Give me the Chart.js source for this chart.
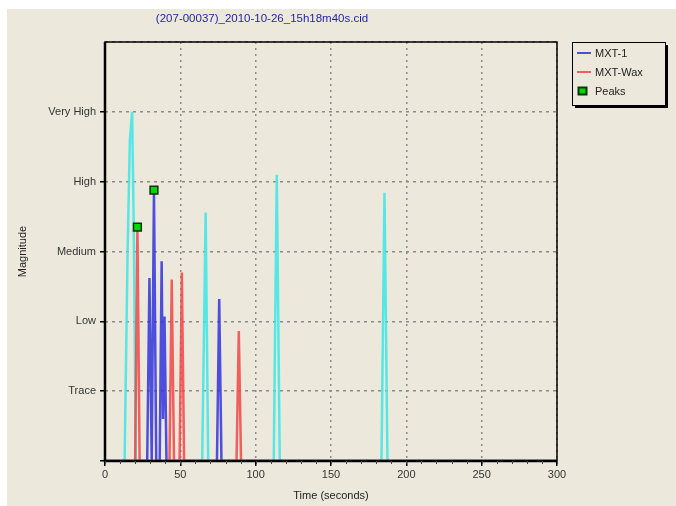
<!DOCTYPE html>
<html>
<head>
<meta charset="utf-8">
<script src="https://cdn.jsdelivr.net/npm/chart.js@4"></script>
<style>
  body { margin: 0; background: #ffffff; }
  #wrap { position: absolute; left: 7px; top: 9px; width: 669px; height: 497px; background: #ece9dc; }
</style>
</head>
<body>
<div id="wrap"><canvas id="peakChart"></canvas></div>
<script>
// Values (time in seconds, magnitude 0..6)
const chartTitle = '(207-00037)_2010-10-26_15h18m40s.cid';
const yLabels = ['', 'Trace', 'Low', 'Medium', 'High', 'Very High', ''];

const cyanTimes  = [0, 13, 15, 16.5, 18, 19, 20.5, 64.5, 66.8, 68.5, 112, 114, 116, 183.5, 185.5, 187.5, 300];
const cyanValues = [0, 0, 3.0, 4.6, 5.0, 3.5, 0, 0, 3.56, 0, 0, 4.1, 0, 0, 3.84, 0, 0];

const mxt1Times  = [0, 28, 29.5, 31, 32.5, 34, 36.3, 37.6, 38.5, 39.5, 40.8, 74.3, 75.8, 77.3, 300];
const mxt1Values = [0, 0, 2.62, 0, 3.88, 0, 0, 2.86, 0.6, 2.07, 0, 0, 2.32, 0, 0];

const waxTimes  = [0, 20, 21.5, 23, 42.8, 44.3, 45.8, 49.5, 51, 52.5, 87.3, 88.8, 90.3, 300];
const waxValues = [0, 0, 3.35, 0, 0, 2.6, 0, 0, 2.7, 0, 0, 1.86, 0, 0];

const peakTimes  = [21.5, 32.5];
const peakValues = [3.35, 3.88];

function toPoints(xs, ys) {
    return xs.map((t, i) => ({ x: t, y: ys[i] }));
}

const fontFamily = '"Liberation Sans", Arial, sans-serif';

// frame, minor ticks, title and legend box
const framePlugin = {
    id: 'frame',
    afterDraw(chart) {
        const ctx = chart.ctx;
        const a = chart.chartArea;
        const x = chart.scales.x;
        ctx.save();
        ctx.strokeStyle = '#000';
        ctx.lineWidth = 1.5;
        ctx.strokeRect(a.left, a.top, a.right - a.left, a.bottom - a.top);
        ctx.lineWidth = 2.5;
        ctx.beginPath();
        ctx.moveTo(a.left, a.top);
        ctx.lineTo(a.left, a.bottom);
        ctx.lineTo(a.right, a.bottom);
        ctx.stroke();

        ctx.lineWidth = 1;
        ctx.strokeStyle = '#444';
        for (let t = 0; t <= 300; t += 10) {
            const px = Math.round(x.getPixelForValue(t)) + 0.5;
            ctx.beginPath();
            ctx.moveTo(px, a.bottom);
            ctx.lineTo(px, a.bottom + 3);
            ctx.stroke();
        }

        // title
        ctx.fillStyle = '#1e1eb0';
        ctx.font = '11.5px ' + fontFamily;
        ctx.textAlign = 'center';
        ctx.textBaseline = 'middle';
        ctx.fillText(chartTitle, 255, 10);

        // legend
        ctx.font = '11px ' + fontFamily;
        const lx = a.right + 15, ly = a.top, lw = 93, lh = 63;
        ctx.fillStyle = '#000';
        ctx.fillRect(lx + 3, ly + 3, lw, lh);
        ctx.fillStyle = '#ece9dc';
        ctx.fillRect(lx, ly, lw, lh);
        ctx.strokeStyle = '#000';
        ctx.lineWidth = 1;
        ctx.strokeRect(lx + 0.5, ly + 0.5, lw, lh);
        ctx.textAlign = 'left';
        const items = chart.data.datasets.filter(d => d.label);
        items.forEach((d, i) => {
            const y = ly + 11 + i * 19;
            if (d.showLine === false) {
                ctx.fillStyle = '#00d800';
                ctx.fillRect(lx + 6, y - 4, 9, 8);
                ctx.strokeStyle = '#103010';
                ctx.strokeRect(lx + 6.5, y - 3.5, 8, 7);
            } else {
                ctx.strokeStyle = d.borderColor;
                ctx.lineWidth = 2;
                ctx.beginPath();
                ctx.moveTo(lx + 5, y);
                ctx.lineTo(lx + 19, y);
                ctx.stroke();
            }
            ctx.fillStyle = '#222';
            ctx.fillText(d.label, lx + 23, y + 1);
        });
        ctx.restore();
    }
};

const ctx = document.getElementById('peakChart').getContext('2d');
new Chart(ctx, {
    type: 'line',
    data: {
        datasets: [
            {
                label: 'MXT-1',
                data: toPoints(mxt1Times, mxt1Values),
                borderColor: 'rgba(50, 50, 220, 0.85)',
                borderWidth: 2.5,
                pointRadius: 0,
                order: 2
            },
            {
                label: 'MXT-Wax',
                data: toPoints(waxTimes, waxValues),
                borderColor: 'rgba(240, 70, 70, 0.85)',
                borderWidth: 2.5,
                pointRadius: 0,
                order: 1
            },
            {
                label: 'Peaks',
                data: toPoints(peakTimes, peakValues),
                showLine: false,
                pointStyle: 'rect',
                pointRadius: 5.5,
                pointBackgroundColor: '#00d800',
                pointBorderColor: '#103010',
                pointBorderWidth: 1.5,
                order: 0
            },
            {
                label: '',
                data: toPoints(cyanTimes, cyanValues),
                borderColor: 'rgba(60, 230, 230, 0.85)',
                borderWidth: 2.5,
                pointRadius: 0,
                order: 3
            }
        ]
    },
    options: {
        responsive: true,
        maintainAspectRatio: false,
        animation: false,
        layout: { padding: { top: 33, right: 119, left: 0, bottom: 0 } },
        plugins: {
            legend: { display: false },
            tooltip: { enabled: false }
        },
        scales: {
            x: {
                type: 'linear',
                min: 0,
                max: 300,
                afterFit(scale) { scale.height = 45; },
                ticks: { stepSize: 50, color: '#333', font: { family: fontFamily, size: 11 }, padding: 2 },
                grid: { color: '#8a8a8a', lineWidth: 1.5, tickColor: '#000', tickLength: 5 },
                border: { display: false, dash: [2, 4] },
                title: { display: true, text: 'Time (seconds)', color: '#222', font: { family: fontFamily, size: 11 }, padding: { top: 0, bottom: 3 } }
            },
            y: {
                type: 'linear',
                min: 0,
                max: 6,
                afterFit(scale) { scale.width = 98; },
                ticks: {
                    stepSize: 1,
                    autoSkip: false,
                    color: '#333',
                    font: { family: fontFamily, size: 11 },
                    padding: 4,
                    callback: v => yLabels[v]
                },
                grid: {
                    color: '#8a8a8a',
                    lineWidth: 1.5,
                    tickColor: c => (c.tick && c.tick.value === 6 ? 'rgba(0,0,0,0)' : '#000'),
                    tickLength: 5
                },
                border: { display: false, dash: [3, 4] },
                title: { display: true, text: 'Magnitude', color: '#222', font: { family: fontFamily, size: 11 }, padding: { top: 9, bottom: 0 } }
            }
        }
    },
    plugins: [framePlugin]
});
</script>
</body>
</html>
